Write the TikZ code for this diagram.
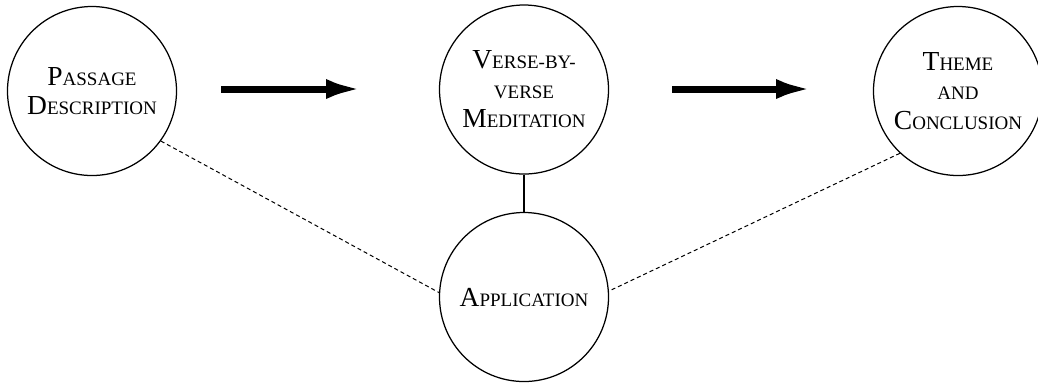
\documentclass[tikz,border=0pt]{standalone}
\usepackage{fontspec}
\setmainfont{Liberation Serif}
\usepackage{tikz}
\usetikzlibrary{arrows.meta}

\newcommand{\fakesc}[2]{#1{\fontsize{7.6pt}{7.6pt}\selectfont #2}}

\begin{document}
\begin{tikzpicture}[x=0.4pt,y=-0.4pt,
  stage/.style={draw,circle,line width=0.5pt,minimum size=67.6pt,inner sep=0pt,
    align=center,font=\fontsize{11pt}{11.8pt}\selectfont},
  bigarrow/.style={line width=2.8pt,-{Latex[length=14.4pt,width=8pt]}},
  link/.style={line width=0.4pt,dash pattern=on 1.6pt off 1.2pt}]
\useasboundingbox (0,0) rectangle (1038,383);

\node[stage] (pd) at (92,91) {\fakesc{P}{ASSAGE}\\\fakesc{D}{ESCRIPTION}};
\node[stage] (vm) at (524,89.5) {\fakesc{V}{ERSE-BY-}\\\fakesc{}{VERSE}\\\fakesc{M}{EDITATION}};
\node[stage] (tc) at (958,91) {\fakesc{T}{HEME}\\\fakesc{}{AND}\\\fakesc{C}{ONCLUSION}};
\node[stage] (ap) at (524,297) {\fakesc{A}{PPLICATION}};

\coordinate (a1) at (221,89);
\coordinate (b1) at (362,89);
\coordinate (a2) at (672,89);
\coordinate (b2) at (812,89);

\draw[bigarrow] (a1) -- (b1);
\draw[bigarrow] (a2) -- (b2);

\draw[line width=0.5pt] (vm) -- (ap);
\draw[link] (pd.-36) -- (ap.177);
\draw[link] (tc.227) -- (ap.4);
\end{tikzpicture}
\end{document}
